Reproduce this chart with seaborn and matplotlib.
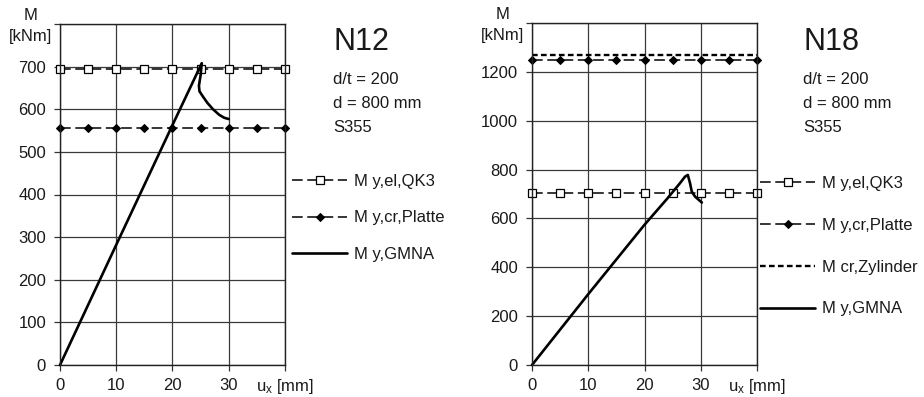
import matplotlib
matplotlib.use("Agg")
import matplotlib.pyplot as plt
import seaborn as sns

# x positions of the marker lines
u_marks = [0, 5, 10, 15, 20, 25, 30, 35, 40]

# N12 values (kNm)
n12_m_el = 695
n12_m_platte = 555
n12_gmna_u = [0, 10, 20, 25.2, 25.0, 24.7, 24.8, 25.4, 26.2, 27.2, 28.3, 29.2, 30.0]
n12_gmna_m = [0, 282, 563, 708, 680, 655, 642, 630, 615, 600, 587, 580, 577]

# N18 values (kNm)
n18_m_el = 703
n18_m_platte = 1250
n18_m_zyl = 1270
n18_gmna_u = [0, 10, 20, 24, 26.3, 27.2, 27.7, 28.1, 28.4, 29.0, 30.2]
n18_gmna_m = [0, 290, 574, 680, 744, 771, 778, 744, 710, 689, 665]

info_lines = ["d/t = 200", "d = 800 mm", "S355"]
lbl_el = "M y,el,QK3"
lbl_platte = "M y,cr,Platte"
lbl_zyl = "M cr,Zylinder"
lbl_gmna = "M y,GMNA"

sns.set_style("white")
plt.rcParams['font.family'] = ['Liberation Sans', 'DejaVu Sans']
plt.rcParams['mathtext.fontset'] = 'custom'
plt.rcParams['mathtext.rm'] = 'Liberation Sans'
plt.rcParams['mathtext.it'] = 'Liberation Sans'

txt = '#1a1a1a'
fs = 12

fig = plt.figure(figsize=(9.24, 3.97), dpi=100)
ax1 = fig.add_axes([60 / 924, 1 - 365 / 397, 225 / 924, 341 / 397])
ax2 = fig.add_axes([532 / 924, 1 - 365 / 397, 225 / 924, 342 / 397])

el_style = dict(color='black', lw=1.1, dashes=(7, 3), marker='s', markersize=6,
                markerfacecolor='white', markeredgecolor='black', markeredgewidth=0.9)
pl_style = dict(color='black', lw=1.1, dashes=(7, 3), marker='D', markersize=4,
                markerfacecolor='black', markeredgecolor='black')
zy_style = dict(color='black', lw=1.7, dashes=(2.4, 1.4))
gm_style = dict(color='black', lw=1.9)


def draw_panel(ax, m_el, m_platte, gu, gm, ymax, ystep, m_zyl=None):
    sns.lineplot(x=u_marks, y=[m_el] * len(u_marks), ax=ax, label=lbl_el, **el_style)
    sns.lineplot(x=u_marks, y=[m_platte] * len(u_marks), ax=ax, label=lbl_platte, **pl_style)
    if m_zyl is not None:
        sns.lineplot(x=[0, 40], y=[m_zyl, m_zyl], ax=ax, label=lbl_zyl, **zy_style)
    sns.lineplot(x=gu, y=gm, ax=ax, sort=False, estimator=None, label=lbl_gmna, **gm_style)
    for l in ax.lines:
        l.set_clip_on(False)
    ax.set_xlim(0, 40)
    ax.set_ylim(0, ymax)
    ax.set_xticks([0, 10, 20, 30, 40])
    ax.set_xticklabels(['0', '10', '20', '30', ''])
    yt = list(range(0, ymax, ystep))
    ax.set_yticks(yt + [ymax])
    ax.set_yticklabels([str(v) for v in yt] + [''])
    ax.grid(True, color='#3a3a3a', lw=0.9)
    ax.set_axisbelow(True)
    for s in ax.spines.values():
        s.set_color('#222222')
        s.set_linewidth(1.0)
    ax.tick_params(direction='out', length=4, width=0.9, color='#333333',
                   labelsize=fs, labelcolor=txt, left=True, bottom=True)
    ax.tick_params(axis='y', pad=6)
    ax.tick_params(axis='x', pad=5)
    ax.set_xlabel('')
    ax.set_ylabel('')
    ax.text(-0.035, 1.0 - 2 / 341, 'M\n[kNm]', transform=ax.transAxes,
            ha='right', va='center', multialignment='center', fontsize=fs, color=txt,
            linespacing=1.45)
    ax.text(40, -0.063, r'u$_\mathregular{x}$ [mm]', transform=ax.get_xaxis_transform(),
            ha='center', va='center', fontsize=fs, color=txt)
    ax.get_legend().remove()


draw_panel(ax1, n12_m_el, n12_m_platte, n12_gmna_u, n12_gmna_m, 800, 100)
draw_panel(ax2, n18_m_el, n18_m_platte, n18_gmna_u, n18_gmna_m, 1400, 200, m_zyl=n18_m_zyl)

for x0, title in [(333 / 924, 'N12'), (803 / 924, 'N18')]:
    fig.text(x0, 1 - 42 / 397, title, fontsize=22, color=txt, ha='left', va='center')
    for i, line in enumerate(info_lines):
        fig.text(x0, 1 - (79 + 24.5 * i) / 397, line, fontsize=fs, color=txt,
                 ha='left', va='center')

h1, l1 = ax1.get_legend_handles_labels()
fig.legend(h1, l1, loc='upper left', bbox_to_anchor=(292 / 924, 1 - 174 / 397),
           frameon=False, fontsize=fs, handlelength=3.3, handletextpad=0.45,
           labelspacing=1.29, borderpad=0, borderaxespad=0, numpoints=1,
           labelcolor=txt)
h2, l2 = ax2.get_legend_handles_labels()
fig.legend(h2, l2, loc='upper left', bbox_to_anchor=(760 / 924, 1 - 176 / 397),
           frameon=False, fontsize=fs, handlelength=3.3, handletextpad=0.45,
           labelspacing=1.61, borderpad=0, borderaxespad=0, numpoints=1,
           labelcolor=txt)

fig.savefig('out.png', dpi=100, facecolor='white')
